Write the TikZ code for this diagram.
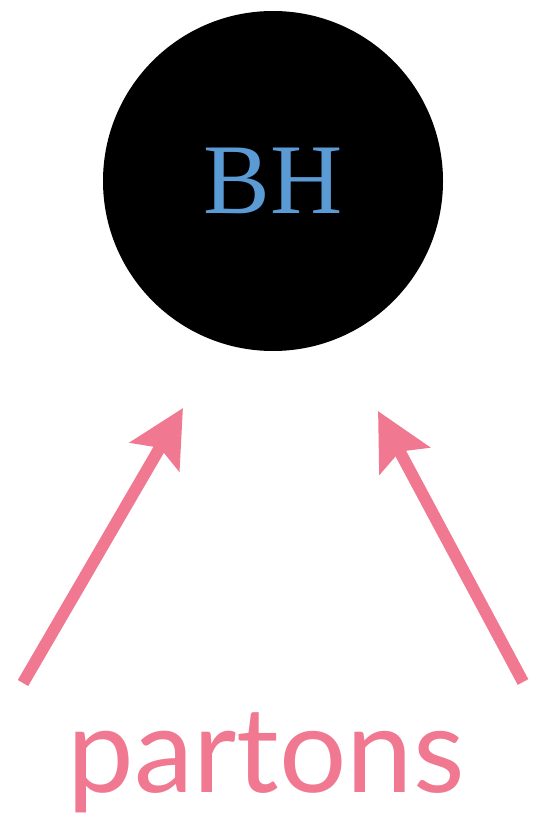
\documentclass[tikz,border=0pt]{standalone}
\usepackage{fontspec}
\setmainfont{Lato}
\newfontfamily\bhfont{Liberation Serif}
\usetikzlibrary{arrows.meta}
\definecolor{partonpink}{RGB}{240,120,144}
\definecolor{bhblue}{RGB}{90,155,213}
\tikzset{
  hole/.style={circle,fill=black,minimum size=340pt,inner sep=0pt},
  partonarrow/.style={partonpink,line width=12pt,-{Stealth[length=56pt,width=56pt,inset=10pt]}}
}
\begin{document}
\begin{tikzpicture}[x=1pt,y=-1pt]
\useasboundingbox (0,0) rectangle (537,821);
\node[hole] (bh) at (273,181) {};
\node[bhblue,font=\bhfont\fontsize{100}{100}\selectfont] (bhlabel) at (bh.center) {BH};
\coordinate (leftfoot) at (23,683);
\coordinate (lefttip) at (183,408);
\coordinate (rightfoot) at (523,682);
\coordinate (righttip) at (378,411);
\draw[partonarrow] (leftfoot)--(lefttip);
\draw[partonarrow] (rightfoot)--(righttip);
\node[partonpink,font=\fontsize{119}{119}\selectfont,anchor=base] (partons) at (266,792) {partons};
\end{tikzpicture}
\end{document}
